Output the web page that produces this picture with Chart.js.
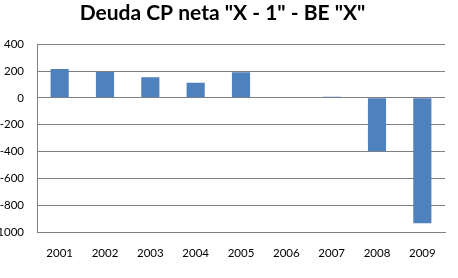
<!DOCTYPE html>
<html>
<head>
<meta charset="utf-8">
<script src="https://cdn.jsdelivr.net/npm/chart.js@4"></script>
<style>
  html, body { margin: 0; padding: 0; background: #fff; }
  #wrap { width: 458px; height: 278px; }
</style>
</head>
<body>
<div id="wrap"><canvas id="chart"></canvas></div>
<script>
// datos del gráfico
const years = ['2001', '2002', '2003', '2004', '2005', '2006', '2007', '2008', '2009'];
const deuda = [215, 192, 153, 113, 191, 0, 8, -398, -935];
const yMin = -1000;
const yMax = 400;
const yStep = 200;

const ctx = document.getElementById('chart').getContext('2d');

new Chart(ctx, {
  type: 'bar',
  data: {
    labels: years,
    datasets: [{
      label: 'Deuda CP neta',
      data: deuda,
      backgroundColor: '#4f81bd',
      borderWidth: 0,
      categoryPercentage: 1,
      barPercentage: 0.4
    }]
  },
  options: {
    responsive: true,
    maintainAspectRatio: false,
    animation: false,
    layout: { padding: { top: 0, right: 13, bottom: 0, left: 0 } },
    plugins: {
      legend: { display: false },
      tooltip: { enabled: false },
      title: {
        display: true,
        text: 'Deuda CP neta "X - 1" - BE "X"',
        color: '#000',
        font: { family: 'Lato', size: 21, weight: 'bold' },
        padding: { top: 1, bottom: 18 }
      }
    },
    scales: {
      x: {
        grid: { display: false },
        border: { display: true, color: '#808080', width: 1 },
        ticks: { color: '#000', font: { family: 'Lato', size: 11.5 }, padding: 6 },
        afterFit: (scale) => { scale.height = 46; }
      },
      y: {
        min: yMin,
        max: yMax,
        grid: { color: '#808080', lineWidth: 1, drawTicks: false },
        border: { display: true, color: '#808080', width: 1 },
        ticks: {
          stepSize: yStep,
          color: '#000',
          font: { family: 'Lato', size: 11.5 },
          padding: 13,
          callback: (v) => String(v)
        },
        afterFit: (scale) => { scale.width = 37; }
      }
    }
  }
});
</script>
</body>
</html>
